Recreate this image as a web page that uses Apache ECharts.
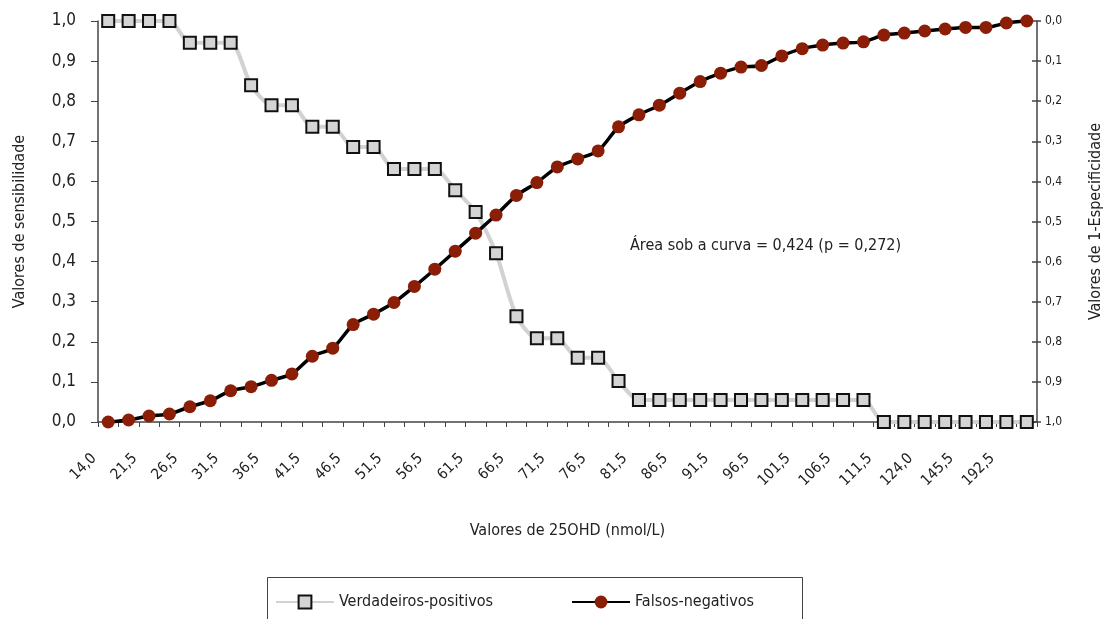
<!DOCTYPE html>
<html>
<head>
<meta charset="utf-8">
<script src="https://cdn.jsdelivr.net/npm/echarts@6/dist/echarts.min.js"></script>
<style>
    html, body { margin: 0; padding: 0; background: #fff; }
    #chart { width: 1105px; height: 619px; }
</style>
</head>
<body>
<div id="chart"></div>
<script>
var categories = [
    '14,0', '19,0', '21,5', '24,0', '26,5', '29,0', '31,5', '34,0', '36,5', '39,0',
    '41,5', '44,0', '46,5', '49,0', '51,5', '54,0', '56,5', '59,0', '61,5', '64,0',
    '66,5', '69,0', '71,5', '74,0', '76,5', '79,0', '81,5', '84,0', '86,5', '89,0',
    '91,5', '94,0', '96,5', '99,0', '101,5', '104,0', '106,5', '109,0', '111,5', '116,5',
    '124,0', '131,5', '145,5', '160,0', '192,5', '210,0'
];

var verdadeirosPositivos = [
    1.0, 1.0, 1.0, 1.0, 0.946, 0.946, 0.946, 0.840, 0.790, 0.790,
    0.736, 0.736, 0.686, 0.686, 0.631, 0.631, 0.631, 0.578, 0.524, 0.421,
    0.264, 0.209, 0.209, 0.160, 0.160, 0.102, 0.055, 0.055, 0.055, 0.055,
    0.055, 0.055, 0.055, 0.055, 0.055, 0.055, 0.055, 0.055, 0, 0,
    0, 0, 0, 0, 0, 0
];

var falsosNegativos = [
    0.0, 0.005, 0.015, 0.02, 0.038, 0.053, 0.078, 0.088, 0.104, 0.12,
    0.164, 0.184, 0.243, 0.269, 0.298, 0.338, 0.381, 0.426, 0.471, 0.516,
    0.565, 0.597, 0.636, 0.656, 0.676, 0.736, 0.766, 0.79, 0.82, 0.849,
    0.87, 0.885, 0.889, 0.913, 0.931, 0.94, 0.945, 0.948, 0.965, 0.97,
    0.975, 0.98, 0.984, 0.984, 0.995, 1.0
];

var fontFamily = '"DejaVu Sans Condensed", "Liberation Sans", sans-serif';
var textColor = '#222';
var axisColor = '#444';

function comma(v) {
    return v.toFixed(1).replace('.', ',');
}

var chart = echarts.init(document.getElementById('chart'));

var option = {
    animation: false,
    textStyle: { fontFamily: fontFamily, color: textColor },
    grid: { left: 98, right: 68, top: 21, bottom: 197, containLabel: false, outerBoundsMode: 'none' },
    xAxis: {
        type: 'category',
        data: categories,
        boundaryGap: true,
        name: 'Valores de 25OHD (nmol/L)',
        nameLocation: 'middle',
        nameGap: 101,
        nameTextStyle: { fontSize: 16, color: textColor, fontFamily: fontFamily },
        axisLine: { lineStyle: { color: axisColor, width: 1.5 } },
        axisTick: { show: true, interval: 0, length: 5, lineStyle: { color: axisColor } },
        axisLabel: {
            interval: 1,
            rotate: 45,
            margin: 20,
            padding: [0, 20, 0, 0],
            fontSize: 15,
            color: textColor,
            fontFamily: fontFamily
        },
        splitLine: { show: false }
    },
    yAxis: [
        {
            type: 'value',
            min: 0,
            max: 1,
            interval: 0.1,
            position: 'left',
            name: 'Valores de sensibilidade',
            nameLocation: 'middle',
            nameGap: 70,
            nameRotate: 90,
            nameTextStyle: { fontSize: 16, color: textColor, fontFamily: fontFamily },
            axisLine: { show: true, lineStyle: { color: axisColor, width: 1.5 } },
            axisTick: { show: true, length: 7, lineStyle: { color: axisColor } },
            axisLabel: {
                fontSize: 17,
                margin: 22,
                color: textColor,
                fontFamily: fontFamily,
                formatter: comma
            },
            splitLine: { show: false }
        },
        {
            type: 'value',
            min: 0,
            max: 1,
            interval: 0.1,
            inverse: true,
            position: 'right',
            name: 'Valores de 1-Especificidade',
            nameLocation: 'middle',
            nameGap: 51,
            nameRotate: 90,
            nameTextStyle: { fontSize: 16, color: textColor, fontFamily: fontFamily },
            axisLine: { show: true, lineStyle: { color: axisColor, width: 1.5 } },
            axisTick: { show: true, length: 4, lineStyle: { color: axisColor, width: 1.5 } },
            axisLabel: {
                fontSize: 12,
                margin: 8,
                color: textColor,
                fontFamily: fontFamily,
                formatter: comma
            },
            splitLine: { show: false }
        },
        {
            // inner half of the right axis cross ticks
            type: 'value',
            min: 0,
            max: 1,
            interval: 0.1,
            position: 'right',
            axisLine: { show: false },
            axisTick: { show: true, inside: true, length: 5, lineStyle: { color: axisColor, width: 1.5 } },
            axisLabel: { show: false },
            splitLine: { show: false }
        }
    ],
    legend: {
        data: ['Verdadeiros-positivos', 'Falsos-negativos'],
        left: 270,
        top: 589,
        itemWidth: 58,
        itemHeight: 16,
        itemGap: 78,
        textStyle: { fontSize: 16, color: textColor, fontFamily: fontFamily }
    },
    graphic: [
        {
            type: 'rect',
            left: 265,
            top: 575,
            shape: { width: 535, height: 60 },
            style: { fill: 'none', stroke: '#444', lineWidth: 1 },
            z: 0
        },
        {
            type: 'text',
            left: 630,
            top: 238,
            style: {
                text: 'Área sob a curva = 0,424 (p = 0,272)',
                font: '16px ' + fontFamily,
                fill: textColor
            }
        }
    ],
    series: [
        {
            name: 'Verdadeiros-positivos',
            type: 'line',
            yAxisIndex: 0,
            data: verdadeirosPositivos,
            smooth: 0.25,
            symbol: 'rect',
            symbolSize: 12,
            lineStyle: { color: '#d2d2d2', width: 4 },
            itemStyle: { color: '#d4d4d4', borderColor: '#111', borderWidth: 2 },
            z: 2
        },
        {
            name: 'Falsos-negativos',
            type: 'line',
            yAxisIndex: 0,
            data: falsosNegativos,
            smooth: 0.25,
            symbol: 'circle',
            symbolSize: 13,
            lineStyle: { color: '#000', width: 3.5 },
            itemStyle: { color: '#8b1e06', borderWidth: 0 },
            z: 3
        }
    ]
};

chart.setOption(option);
</script>
</body>
</html>
